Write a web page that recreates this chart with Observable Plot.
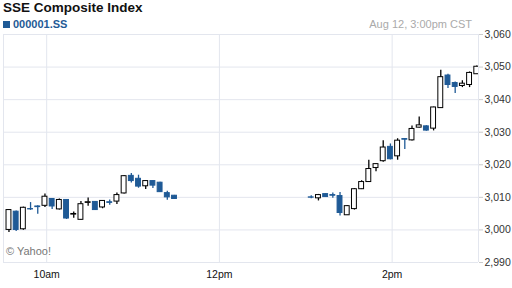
<!DOCTYPE html>
<html>
<head>
<meta charset="utf-8">
<script src="https://cdn.jsdelivr.net/npm/d3@7"></script>
<script src="https://cdn.jsdelivr.net/npm/@observablehq/plot@0.6"></script>
<style>
  html, body { margin: 0; padding: 0; background: #fff; }
  #wrap { position: relative; width: 512px; height: 288px; font-family: "Liberation Sans", Arial, sans-serif; }
  .title { position: absolute; left: 3px; top: 0px; font-size: 13.5px; font-weight: bold; color: #111; }
  .legend { position: absolute; left: 3px; top: 18px; font-size: 11px; font-weight: bold; color: #1f5a96; }
  .legend span.sw { display: inline-block; width: 7px; height: 7px; background: #1f5a96; margin-right: 3px; }
  .stamp { position: absolute; right: 40px; top: 18px; font-size: 11px; color: #aaa; }
  .credit { position: absolute; left: 6px; top: 245px; font-size: 11px; color: #777; }
  svg { position: absolute; left: 0; top: 0; }
</style>
</head>
<body>
<div id="wrap">
  <div id="chart"></div>
  <div class="title">SSE Composite Index</div>
  <div class="legend"><span class="sw"></span>000001.SS</div>
  <div class="stamp">Aug 12, 3:00pm CST</div>
  <div class="credit">© Yahoo!</div>
</div>
<script>
const times = ["9:35","9:40","9:45","9:50","9:55","10:00","10:05","10:10","10:15","10:20","10:25","10:30",
  "10:35","10:40","10:45","10:50","10:55","11:00","11:05","11:10","11:15","11:20","11:25","11:30",
  "13:05","13:10","13:15","13:20","13:25","13:30","13:35","13:40","13:45","13:50","13:55","14:00",
  "14:05","14:10","14:15","14:20","14:25","14:30","14:35","14:40","14:45","14:50","14:55","15:00"];
const opens = [3000.0,3005.6,3000.2,3006.4,3007.2,3007.4,3009.5,3006.3,3009.2,3004.7,3003.1,3008.3,
  3008.6,3006.9,3008.5,3008.7,3011.2,3016.6,3015.7,3013.4,3015.0,3014.5,3011.3,3010.5,
  3010.0,3009.7,3011.0,3010.7,3010.4,3004.5,3006.4,3012.5,3014.7,3019.0,3021.1,3025.5,
  3022.6,3027.9,3027.5,3031.4,3031.8,3031.1,3037.4,3047.4,3045.1,3044.2,3044.5,3047.8];
const highs = [3006.2,3005.8,3007.0,3008.4,3007.4,3011.0,3009.6,3009.5,3009.3,3005.5,3008.7,3009.8,
  3008.7,3009.0,3009.2,3011.3,3016.7,3017.3,3016.8,3015.1,3015.1,3014.6,3011.9,3010.6,
  3010.5,3010.9,3011.1,3011.3,3011.5,3007.5,3012.7,3015.1,3021.4,3020.3,3027.4,3026.4,
  3028.0,3028.0,3031.9,3034.7,3032.0,3037.7,3049.0,3047.8,3045.4,3045.8,3048.5,3050.3];
const lows = [2999.2,2999.5,2999.9,3006.0,3004.8,3006.9,3006.3,3006.1,3003.2,3003.6,3003.0,3007.3,
  3006.0,3006.5,3007.6,3007.8,3011.0,3014.4,3012.8,3012.4,3012.7,3011.5,3009.1,3009.4,
  3009.6,3008.9,3010.0,3009.7,3004.3,3004.4,3006.1,3012.4,3014.6,3017.9,3020.8,3021.5,
  3021.4,3024.7,3027.3,3031.3,3030.3,3030.4,3037.3,3043.4,3041.9,3043.7,3043.7,3047.7];
const closes = [3006.1,3000.0,3006.8,3006.3,3007.0,3010.2,3007.2,3009.2,3003.5,3004.9,3007.9,3008.5,
  3006.1,3008.9,3008.3,3010.7,3016.5,3015.0,3013.3,3015.0,3013.6,3011.6,3010.0,3009.5,
  3009.9,3010.7,3010.1,3010.5,3005.2,3007.3,3012.5,3014.7,3018.7,3020.2,3025.3,3021.7,
  3027.4,3027.7,3031.0,3032.1,3030.5,3037.6,3046.9,3044.5,3043.9,3044.9,3048.2,3050.1];

const yTicks = [2990, 3000, 3010, 3020, 3030, 3040, 3050, 3060];
const xTickTimes = ["10:00", "12:00", "14:00"];
const xTickLabels = ["10am", "12pm", "2pm"];
const xEdges = ["9:30", "15:00"];

const toMin = s => { const [h, m] = s.split(":").map(Number); return h * 60 + m; };
const BLUE = "#1f5a96";
const data = times.map((t, i) => ({
  t: toMin(t) - 1.2, open: opens[i], high: highs[i], low: lows[i], close: closes[i],
  up: closes[i] >= opens[i]
}));
const xTicks = xTickTimes.map(toMin);
const labelOf = new Map(xTicks.map((v, i) => [v, xTickLabels[i]]));

const chart = Plot.plot({
  width: 512, height: 288,
  marginLeft: 3, marginRight: 34, marginTop: 34, marginBottom: 26,
  style: { fontFamily: "'Liberation Sans', Arial, sans-serif", background: "transparent" },
  x: { domain: xEdges.map(toMin), label: null },
  y: { domain: [2990, 3060], label: null },
  marks: [
    Plot.ruleY(yTicks, { stroke: "#e3e6ee", strokeWidth: 1 }),
    Plot.ruleX([...xEdges.map(toMin), ...xTicks], { stroke: "#e3e6ee", strokeWidth: 1 }),
    Plot.ruleX(data, { x: "t", y1: "low", y2: "high", stroke: d => d.up ? "#000" : BLUE, strokeWidth: 1.3, clip: true }),
    Plot.rect(data, {
      x1: d => d.t - 1.7, x2: d => d.t + 1.7, y1: "open", y2: "close",
      fill: d => d.up ? "#fff" : BLUE, stroke: d => d.up ? "#000" : BLUE, strokeWidth: 1, clip: true
    }),
    Plot.axisY(yTicks, { anchor: "right", label: null, tickFormat: d3.format(","), tickSize: 4, tickPadding: 2, fontSize: 10.5, color: "#333", stroke: "#ccc" }),
    Plot.axisX(xTicks, { anchor: "bottom", label: null, tickFormat: d => labelOf.get(d), tickSize: 0, tickPadding: 8, fontSize: 10.5, color: "#111" })
  ]
});
document.getElementById("chart").appendChild(chart);
</script>
</body>
</html>
